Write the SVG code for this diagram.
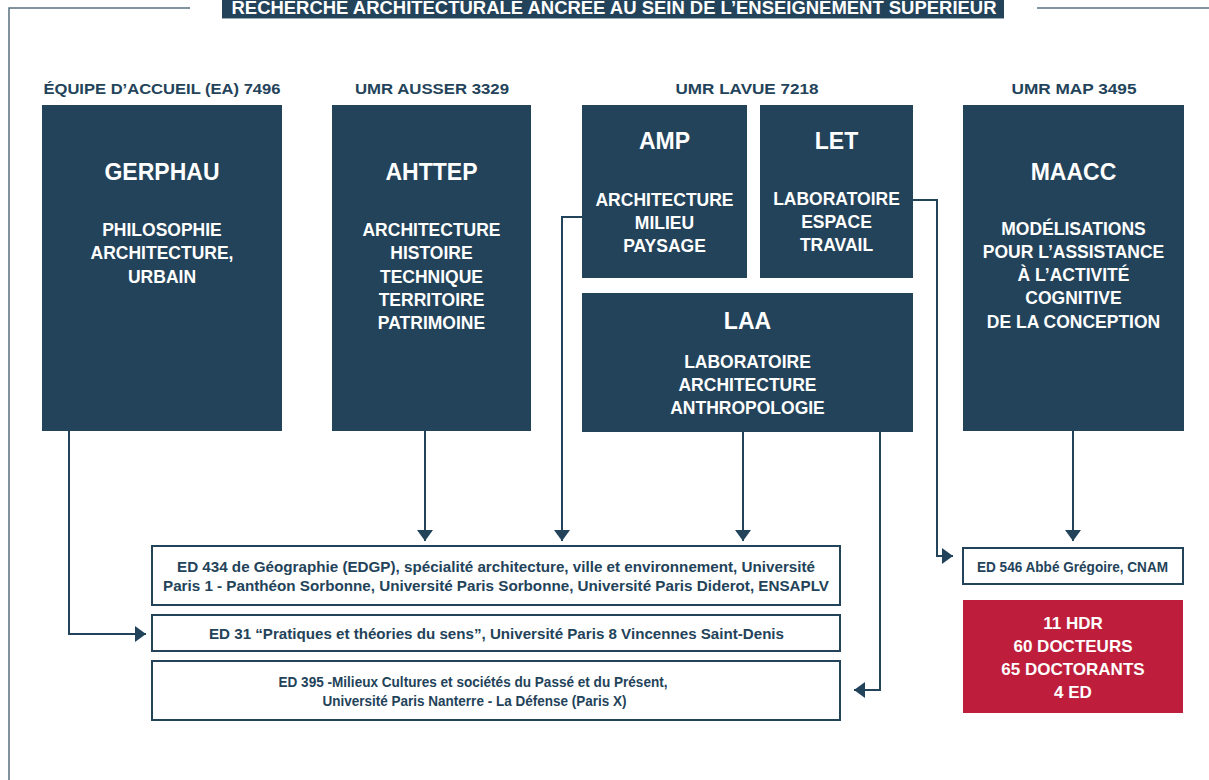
<svg xmlns="http://www.w3.org/2000/svg" width="1209" height="780" viewBox="0 0 1209 780">
<style>
  text { font-family: "Liberation Sans", Arial, sans-serif; font-weight: bold; text-anchor: middle; }
  .box { fill: #23435a; }
  .ttl { fill: #ffffff; font-size: 23px; }
  .sub { fill: #ffffff; font-size: 17.5px; }
  .hdr { fill: #23435a; font-size: 14.5px; }
  .ed { fill: #ffffff; stroke: #23435a; stroke-width: 2; }
  .edt { fill: #23435a; font-size: 15.5px; }
  .stat { fill: #ffffff; font-size: 17px; }
  .frame { fill: none; stroke: #587080; stroke-width: 1.5; }
  .conn { fill: none; stroke: #23435a; stroke-width: 2; }
</style>
<defs>
  <marker id="arr" markerUnits="userSpaceOnUse" markerWidth="12" markerHeight="18" refX="11" refY="8" orient="auto">
    <path d="M0,0 L11,8 L0,16 Z" fill="#23435a"/>
  </marker>
</defs>
<rect width="1209" height="780" fill="#ffffff"/>

<g id="frame">
  <path class="frame" d="M190,8 H9 V780"/>
  <path class="frame" d="M1037,8 H1209"/>
</g>

<g id="title">
  <rect x="222" y="0" width="782" height="18" fill="#23435a"/>
  <line x1="222" y1="18.5" x2="1004" y2="18.5" stroke="#9aabb7" stroke-width="1"/>
  <text x="614" y="14" fill="#ffffff" font-size="17.5" textLength="765" lengthAdjust="spacingAndGlyphs">RECHERCHE ARCHITECTURALE ANCRÉE AU SEIN DE L’ENSEIGNEMENT SUPÉRIEUR</text>
</g>

<g id="headers">
  <text class="hdr" x="162" y="94" textLength="237" lengthAdjust="spacingAndGlyphs">ÉQUIPE D’ACCUEIL (EA) 7496</text>
  <text class="hdr" x="432" y="94" textLength="154" lengthAdjust="spacingAndGlyphs">UMR AUSSER 3329</text>
  <text class="hdr" x="747" y="94" textLength="143" lengthAdjust="spacingAndGlyphs">UMR LAVUE 7218</text>
  <text class="hdr" x="1074" y="94" textLength="125" lengthAdjust="spacingAndGlyphs">UMR MAP 3495</text>
</g>

<g id="gerphau">
  <rect class="box" x="42" y="105" width="240" height="326"/>
  <text class="ttl" x="162" y="180">GERPHAU</text>
  <text class="sub" x="162" y="236">PHILOSOPHIE</text>
  <text class="sub" x="162" y="259">ARCHITECTURE,</text>
  <text class="sub" x="162" y="283">URBAIN</text>
</g>

<g id="ahttep">
  <rect class="box" x="332" y="105" width="199" height="326"/>
  <text class="ttl" x="431.5" y="180">AHTTEP</text>
  <text class="sub" x="431.5" y="236">ARCHITECTURE</text>
  <text class="sub" x="431.5" y="259">HISTOIRE</text>
  <text class="sub" x="431.5" y="283">TECHNIQUE</text>
  <text class="sub" x="431.5" y="306">TERRITOIRE</text>
  <text class="sub" x="431.5" y="329">PATRIMOINE</text>
</g>

<g id="amp">
  <rect class="box" x="582" y="105" width="165" height="173"/>
  <text class="ttl" x="664.5" y="149">AMP</text>
  <text class="sub" x="664.5" y="206">ARCHITECTURE</text>
  <text class="sub" x="664.5" y="229">MILIEU</text>
  <text class="sub" x="664.5" y="252">PAYSAGE</text>
</g>

<g id="let">
  <rect class="box" x="760" y="105" width="153" height="173"/>
  <text class="ttl" x="836.5" y="149">LET</text>
  <text class="sub" x="836.5" y="205">LABORATOIRE</text>
  <text class="sub" x="836.5" y="228">ESPACE</text>
  <text class="sub" x="836.5" y="251">TRAVAIL</text>
</g>

<g id="laa">
  <rect class="box" x="582" y="293" width="331" height="139"/>
  <text class="ttl" x="747.5" y="329">LAA</text>
  <text class="sub" x="747.5" y="368">LABORATOIRE</text>
  <text class="sub" x="747.5" y="391">ARCHITECTURE</text>
  <text class="sub" x="747.5" y="414">ANTHROPOLOGIE</text>
</g>

<g id="maacc">
  <rect class="box" x="963" y="105" width="221" height="326"/>
  <text class="ttl" x="1073.5" y="180">MAACC</text>
  <text class="sub" x="1073.5" y="235">MODÉLISATIONS</text>
  <text class="sub" x="1073.5" y="258">POUR L’ASSISTANCE</text>
  <text class="sub" x="1073.5" y="281">À L’ACTIVITÉ</text>
  <text class="sub" x="1073.5" y="304">COGNITIVE</text>
  <text class="sub" x="1073.5" y="328">DE LA CONCEPTION</text>
</g>

<g id="ed434">
  <rect class="ed" x="152" y="546" width="688" height="59"/>
  <text class="edt" x="496" y="572" textLength="638" lengthAdjust="spacingAndGlyphs">ED 434 de Géographie (EDGP), spécialité architecture, ville et environnement, Université</text>
  <text class="edt" x="496" y="591" textLength="666" lengthAdjust="spacingAndGlyphs">Paris 1 - Panthéon Sorbonne, Université Paris Sorbonne, Université Paris Diderot, ENSAPLV</text>
</g>

<g id="ed31">
  <rect class="ed" x="152" y="615" width="688" height="36"/>
  <text class="edt" x="496.5" y="638.5" textLength="575" lengthAdjust="spacingAndGlyphs">ED 31 “Pratiques et théories du sens”, Université Paris 8 Vincennes Saint-Denis</text>
</g>

<g id="ed395">
  <rect class="ed" x="152" y="661" width="688" height="59"/>
  <text class="edt" x="473" y="687" textLength="389" lengthAdjust="spacingAndGlyphs">ED 395 -Milieux Cultures et sociétés du Passé et du Présent,</text>
  <text class="edt" x="474.5" y="706" textLength="304" lengthAdjust="spacingAndGlyphs">Université Paris Nanterre - La Défense (Paris X)</text>
</g>

<g id="ed546">
  <rect class="ed" x="963" y="548" width="220" height="36"/>
  <text class="edt" x="1072.5" y="572" textLength="191" lengthAdjust="spacingAndGlyphs">ED 546 Abbé Grégoire, CNAM</text>
</g>

<g id="stats">
  <rect x="963" y="600" width="220" height="113" fill="#be1e3c"/>
  <text class="stat" x="1073" y="629">11 HDR</text>
  <text class="stat" x="1073" y="652">60 DOCTEURS</text>
  <text class="stat" x="1073" y="675">65 DOCTORANTS</text>
  <text class="stat" x="1073" y="698">4 ED</text>
</g>

<g id="connectors">
  <path class="conn" d="M69,431 V634 H146" marker-end="url(#arr)"/>
  <path class="conn" d="M425,431 V541" marker-end="url(#arr)"/>
  <path class="conn" d="M582,217 H562 V541" marker-end="url(#arr)"/>
  <path class="conn" d="M743,432 V541" marker-end="url(#arr)"/>
  <path class="conn" d="M880,432 V690 H854" marker-end="url(#arr)"/>
  <path class="conn" d="M913,200 H937 V556 H953" marker-end="url(#arr)"/>
  <path class="conn" d="M1073,431 V541" marker-end="url(#arr)"/>
</g>
</svg>
